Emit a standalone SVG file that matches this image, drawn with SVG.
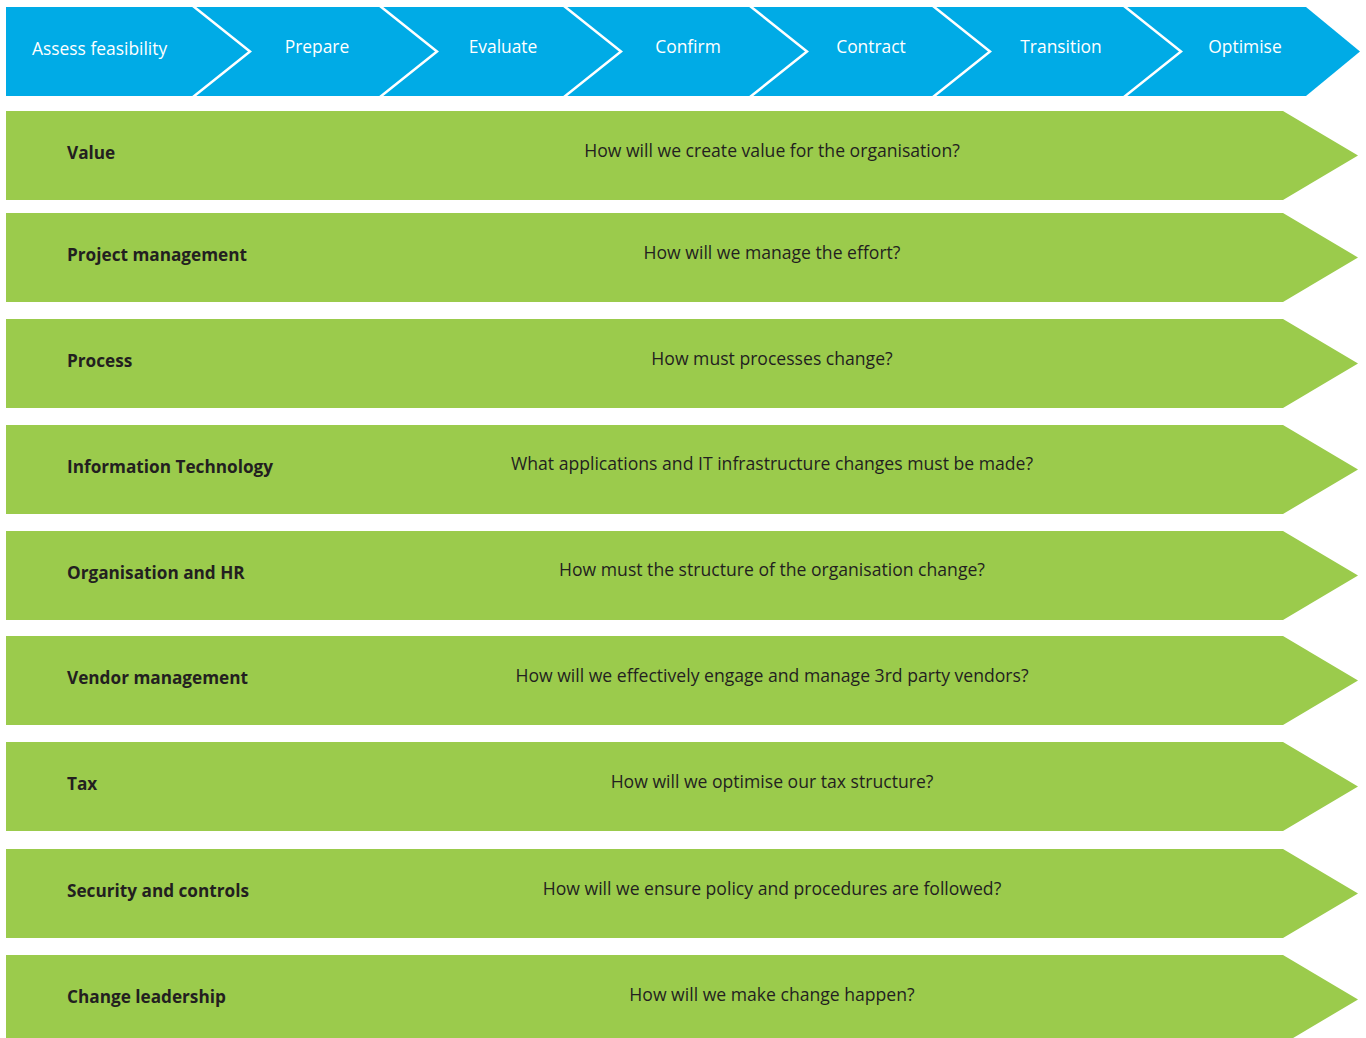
<svg xmlns="http://www.w3.org/2000/svg" width="1366" height="1038" viewBox="0 0 1366 1038">
<style>
.bg{fill:#ffffff}
.phase{fill:#00ABE6}
.chev{fill:none;stroke:#ffffff;stroke-width:2.5}
.row{fill:#9BCB4C}
.ph{font-family:"Open Sans","Noto Sans","Liberation Sans",sans-serif;font-size:17.4px;fill:#ffffff}
.lab{font-family:"Open Sans","Noto Sans","Liberation Sans",sans-serif;font-size:17.2px;font-weight:bold;fill:#231F20}
.q{font-family:"Open Sans","Noto Sans","Liberation Sans",sans-serif;font-size:17.6px;fill:#231F20;text-anchor:middle}
</style>
<rect class="bg" x="0" y="0" width="1366" height="1038"/>
<g id="header">
<polygon class="phase" points="6,7 1306,7 1360,51.5 1306,96 6,96"/>
</g>
<g id="connectors">
<polyline class="chev" points="193,6 250,51.5 193,97"/>
<polyline class="chev" points="380,6 437,51.5 380,97"/>
<polyline class="chev" points="564,6 621,51.5 564,97"/>
<polyline class="chev" points="750,6 807,51.5 750,97"/>
<polyline class="chev" points="933,6 990,51.5 933,97"/>
<polyline class="chev" points="1124,6 1181,51.5 1124,97"/>
</g>
<g id="phase-labels">
<text class="ph" x="32" y="55">Assess feasibility</text>
<text class="ph" x="317" y="53" text-anchor="middle">Prepare</text>
<text class="ph" x="503" y="53" text-anchor="middle">Evaluate</text>
<text class="ph" x="688" y="53" text-anchor="middle">Confirm</text>
<text class="ph" x="871" y="53" text-anchor="middle">Contract</text>
<text class="ph" x="1061" y="53" text-anchor="middle">Transition</text>
<text class="ph" x="1245" y="53" text-anchor="middle">Optimise</text>
</g>
<g id="row-value">
<polygon class="row" points="6,111 1283,111 1358,155.5 1283,200 6,200"/>
<text class="lab" x="67" y="159">Value</text>
<text class="q" x="772" y="157">How will we create value for the organisation?</text>
</g>
<g id="row-project">
<polygon class="row" points="6,213 1283,213 1358,257.5 1283,302 6,302"/>
<text class="lab" x="67" y="261">Project management</text>
<text class="q" x="772" y="259">How will we manage the effort?</text>
</g>
<g id="row-process">
<polygon class="row" points="6,319 1283,319 1358,363.5 1283,408 6,408"/>
<text class="lab" x="67" y="367">Process</text>
<text class="q" x="772" y="365">How must processes change?</text>
</g>
<g id="row-it">
<polygon class="row" points="6,425 1283,425 1358,469.5 1283,514 6,514"/>
<text class="lab" x="67" y="473">Information Technology</text>
<text class="q" x="772" y="470">What applications and IT infrastructure changes must be made?</text>
</g>
<g id="row-org">
<polygon class="row" points="6,531 1283,531 1358,575.5 1283,620 6,620"/>
<text class="lab" x="67" y="579">Organisation and HR</text>
<text class="q" x="772" y="576">How must the structure of the organisation change?</text>
</g>
<g id="row-vendor">
<polygon class="row" points="6,636 1283,636 1358,680.5 1283,725 6,725"/>
<text class="lab" x="67" y="684">Vendor management</text>
<text class="q" x="772" y="682">How will we effectively engage and manage 3rd party vendors?</text>
</g>
<g id="row-tax">
<polygon class="row" points="6,742 1283,742 1358,786.5 1283,831 6,831"/>
<text class="lab" x="67" y="790">Tax</text>
<text class="q" x="772" y="788">How will we optimise our tax structure?</text>
</g>
<g id="row-security">
<polygon class="row" points="6,849 1283,849 1358,893.5 1283,938 6,938"/>
<text class="lab" x="67" y="897">Security and controls</text>
<text class="q" x="772" y="895">How will we ensure policy and procedures are followed?</text>
</g>
<g id="row-change">
<polygon class="row" points="6,955 1283,955 1358,999.5 1283,1044 6,1044"/>
<text class="lab" x="67" y="1003">Change leadership</text>
<text class="q" x="772" y="1001">How will we make change happen?</text>
</g>
</svg>
